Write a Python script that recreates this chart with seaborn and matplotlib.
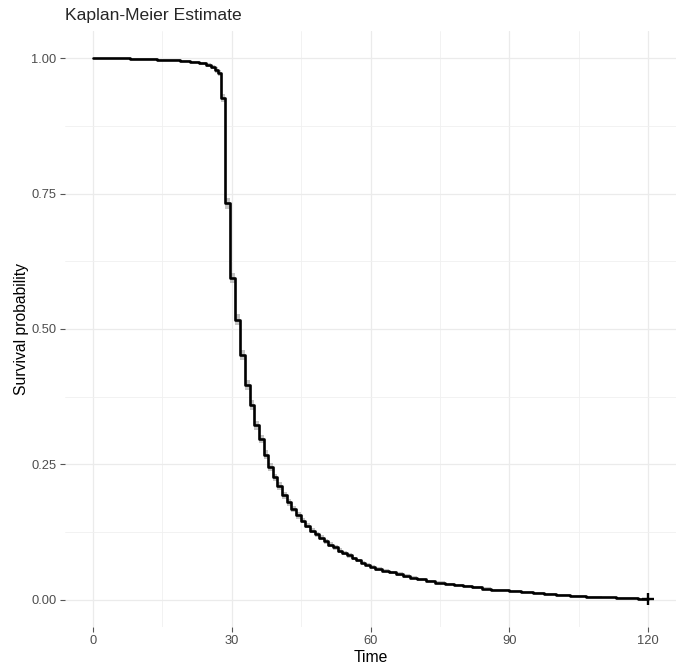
import matplotlib
matplotlib.use("Agg")
from matplotlib import pyplot as plt
from matplotlib.ticker import MultipleLocator
import seaborn as sns

# Kaplan-Meier step curve
times = [0, 8, 13.8, 18.8, 21, 23, 24.5, 25.5, 26.3, 27, 27.7, 28.6, 29.6, 30.7,
         31.8, 32.9, 33.9, 34.9, 35.9, 36.9, 37.9, 38.9, 39.9, 40.9, 41.9, 42.9,
         43.9, 44.9, 45.9, 46.9, 47.9, 48.9, 49.9, 50.9, 51.9, 52.9, 53.9, 54.9,
         55.9, 56.9, 57.9, 58.9, 59.9, 61, 62.5, 64, 65.5, 67, 68.5, 70, 72, 74,
         76, 78, 80, 82, 84, 86, 88, 90, 92.5, 95, 97.5, 100, 103, 106.5, 110,
         113, 117.8, 120]
surv = [1.0, 0.999, 0.997, 0.995, 0.993, 0.990, 0.987, 0.983, 0.978, 0.972,
        0.926, 0.732, 0.594, 0.517, 0.452, 0.397, 0.360, 0.322, 0.297, 0.268,
        0.245, 0.226, 0.210, 0.193, 0.180, 0.168, 0.156, 0.146, 0.137, 0.128,
        0.121, 0.115, 0.108, 0.102, 0.097, 0.091, 0.086, 0.082, 0.077, 0.073,
        0.069, 0.065, 0.061, 0.057, 0.054, 0.051, 0.048, 0.044, 0.041, 0.038,
        0.035, 0.032, 0.030, 0.027, 0.025, 0.023, 0.021, 0.019, 0.018, 0.016,
        0.014, 0.013, 0.011, 0.009, 0.007, 0.005, 0.0045, 0.004, 0.001, 0.001]
ci_low = [1.0, 0.998, 0.996, 0.993, 0.991, 0.987, 0.984, 0.979, 0.973, 0.966,
          0.918, 0.722, 0.584, 0.507, 0.442, 0.388, 0.351, 0.313, 0.289, 0.260,
          0.238, 0.219, 0.203, 0.187, 0.174, 0.162, 0.150, 0.141, 0.132, 0.123,
          0.116, 0.110, 0.104, 0.098, 0.093, 0.087, 0.082, 0.078, 0.074, 0.070,
          0.066, 0.062, 0.058, 0.054, 0.051, 0.048, 0.045, 0.041, 0.038, 0.035,
          0.033, 0.030, 0.028, 0.025, 0.023, 0.021, 0.019, 0.017, 0.016, 0.014,
          0.012, 0.011, 0.009, 0.007, 0.005, 0.003, 0.003, 0.002, 0.0, 0.0]
ci_high = [1.0, 1.0, 0.998, 0.997, 0.995, 0.993, 0.990, 0.987, 0.983, 0.978,
           0.934, 0.742, 0.604, 0.527, 0.462, 0.406, 0.369, 0.331, 0.305, 0.276,
           0.252, 0.233, 0.217, 0.199, 0.186, 0.174, 0.162, 0.151, 0.142, 0.133,
           0.126, 0.120, 0.112, 0.106, 0.101, 0.095, 0.090, 0.086, 0.080, 0.076,
           0.072, 0.068, 0.064, 0.060, 0.057, 0.054, 0.051, 0.047, 0.044, 0.041,
           0.037, 0.034, 0.032, 0.029, 0.027, 0.025, 0.023, 0.021, 0.020, 0.018,
           0.016, 0.015, 0.013, 0.011, 0.009, 0.007, 0.006, 0.006, 0.003, 0.003]
censor_time = [120]
censor_surv = [0.001]

x_ticks = [0, 30, 60, 90, 120]
y_ticks = [0.0, 0.25, 0.5, 0.75, 1.0]
y_labels = ["0.00", "0.25", "0.50", "0.75", "1.00"]

sns.set_theme(style="white")
plt.rcParams["font.family"] = ["Liberation Sans", "DejaVu Sans"]

fig = plt.figure(figsize=(6.86, 6.69), dpi=100)
ax = fig.add_axes([0.0948, 0.0628, 0.8906, 0.8909])

ax.fill_between(times, ci_low, ci_high, step="post", color="#9e9e9e", alpha=0.6, lw=0)
sns.lineplot(x=times, y=surv, drawstyle="steps-post", estimator=None,
             color="black", linewidth=1.9, ax=ax)
ax.plot(censor_time, censor_surv, marker="+", color="black", markersize=9,
        markeredgewidth=1.7, linestyle="none")

ax.set_xlim(-6, 126)
ax.set_ylim(-0.05, 1.05)
ax.set_xticks(x_ticks)
ax.set_yticks(y_ticks)
ax.set_yticklabels(y_labels)
ax.xaxis.set_minor_locator(MultipleLocator(15))
ax.yaxis.set_minor_locator(MultipleLocator(0.125))
ax.grid(which="major", color="#ebebeb", linewidth=0.9)
ax.grid(which="minor", color="#f0f0f0", linewidth=0.6)
ax.set_axisbelow(True)
for s in ax.spines.values():
    s.set_visible(False)
ax.tick_params(axis="both", which="major", length=3.5, width=0.8, color="#555555",
               labelsize=9.3, labelcolor="#4d4d4d", pad=2.5, bottom=True, left=True)
ax.tick_params(which="minor", length=0)

ax.set_xlabel("Time", fontsize=11.3, color="black", labelpad=2)
ax.set_ylabel("Survival probability", fontsize=11.3, color="black", labelpad=2)
ax.set_title("Kaplan-Meier Estimate", fontsize=12.6, loc="left", pad=8)

fig.savefig("out.png", dpi=100)
